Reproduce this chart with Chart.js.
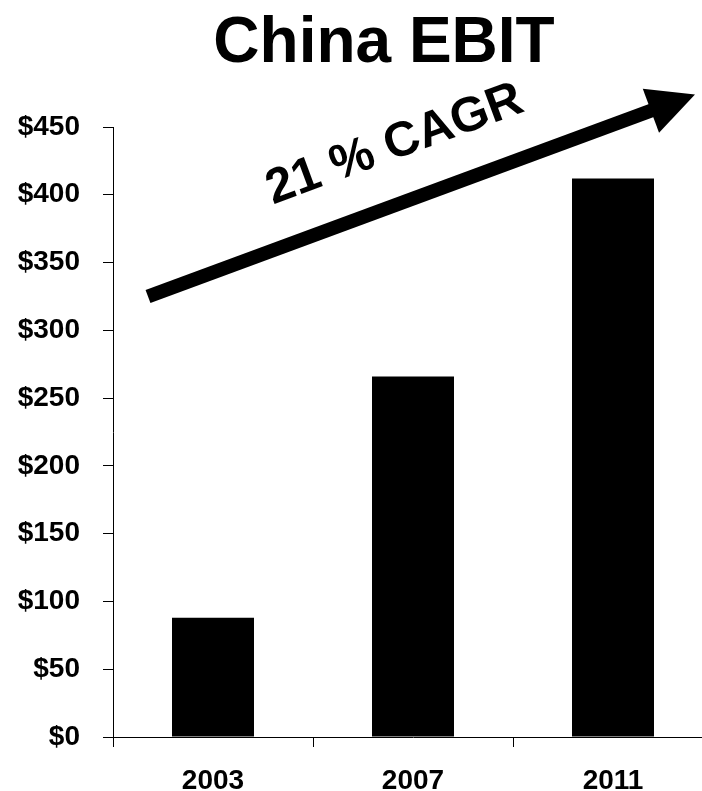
<!DOCTYPE html>
<html>
<head>
<meta charset="utf-8">
<title>China EBIT</title>
<script src="https://cdn.jsdelivr.net/npm/chart.js@4.4.1/dist/chart.umd.min.js"></script>
<style>
    html, body { margin: 0; padding: 0; background: #fff; overflow: hidden; }
    #wrap { width: 720px; height: 791px; }
</style>
</head>
<body>
<div id="wrap"><canvas id="ebitChart" width="720" height="791"></canvas></div>
<script>
// chart values
const years = ['2003', '2007', '2011'];
const ebit = [88, 266, 412];
const yMin = 0;
const yMax = 450;
const yStep = 50;
const titleText = 'China EBIT';
const cagrText = '21 % CAGR';
// arrow ends in data space: [category index, value]
const arrowFrom = [-0.325, 325];
const arrowTo = [2.41, 474];

const FONT = "'Liberation Sans', Arial, Helvetica, sans-serif";

// title + growth arrow drawn on top of the chart
const decorations = {
    id: 'decorations',
    afterDraw(chart) {
        const ctx = chart.ctx;
        const x = chart.scales.x;
        const y = chart.scales.y;

        ctx.save();
        ctx.fillStyle = '#000';
        ctx.font = 'bold 64px ' + FONT;
        ctx.textAlign = 'center';
        ctx.textBaseline = 'alphabetic';
        ctx.fillText(titleText, chart.width / 2 + 24, 62);

        const x0 = x.getPixelForValue(arrowFrom[0]);
        const y0 = y.getPixelForValue(arrowFrom[1]);
        const x1 = x.getPixelForValue(arrowTo[0]);
        const y1 = y.getPixelForValue(arrowTo[1]);
        const len = Math.hypot(x1 - x0, y1 - y0);
        const angle = Math.atan2(y1 - y0, x1 - x0);
        const shaft = 14;
        const headLen = 47;
        const headW = 47;

        ctx.translate(x0, y0);
        ctx.rotate(angle);
        ctx.fillRect(0, -shaft / 2, len - headLen + 2, shaft);
        ctx.beginPath();
        ctx.moveTo(len - headLen, -headW / 2);
        ctx.lineTo(len, 0);
        ctx.lineTo(len - headLen, headW / 2);
        ctx.closePath();
        ctx.fill();

        ctx.font = 'bold 49px ' + FONT;
        ctx.textAlign = 'center';
        ctx.textBaseline = 'alphabetic';
        ctx.fillText(cagrText, len * 0.487, -43);
        ctx.restore();
    }
};

const ctx = document.getElementById('ebitChart').getContext('2d');

new Chart(ctx, {
    type: 'bar',
    data: {
        labels: years,
        datasets: [
            {
                label: 'EBIT',
                data: ebit,
                backgroundColor: '#000',
                borderWidth: 0,
                barPercentage: 0.41,
                categoryPercentage: 1
            }
        ]
    },
    options: {
        responsive: false,
        animation: false,
        devicePixelRatio: 1,
        layout: {
            padding: { top: 127, right: 7, bottom: 0, left: 0 }
        },
        plugins: {
            legend: { display: false },
            title: { display: false },
            tooltip: { enabled: false }
        },
        scales: {
            x: {
                grid: {
                    offset: true,
                    drawOnChartArea: false,
                    drawTicks: true,
                    tickLength: 10,
                    color: '#000',
                    lineWidth: 1
                },
                border: { display: true, color: '#000', width: 1 },
                ticks: {
                    color: '#000',
                    padding: 17,
                    font: { family: FONT, size: 28, weight: 'bold' }
                },
                afterFit(scale) { scale.height = 54; }
            },
            y: {
                min: yMin,
                max: yMax,
                grid: {
                    drawOnChartArea: false,
                    drawTicks: true,
                    tickLength: 10,
                    color: '#000',
                    lineWidth: 1
                },
                border: { display: true, color: '#000', width: 1 },
                ticks: {
                    stepSize: yStep,
                    color: '#000',
                    padding: 23,
                    font: { family: FONT, size: 28, weight: 'bold' },
                    callback: v => '$' + v
                },
                afterFit(scale) { scale.width = 113; }
            }
        }
    },
    plugins: [decorations]
});
</script>
</body>
</html>
